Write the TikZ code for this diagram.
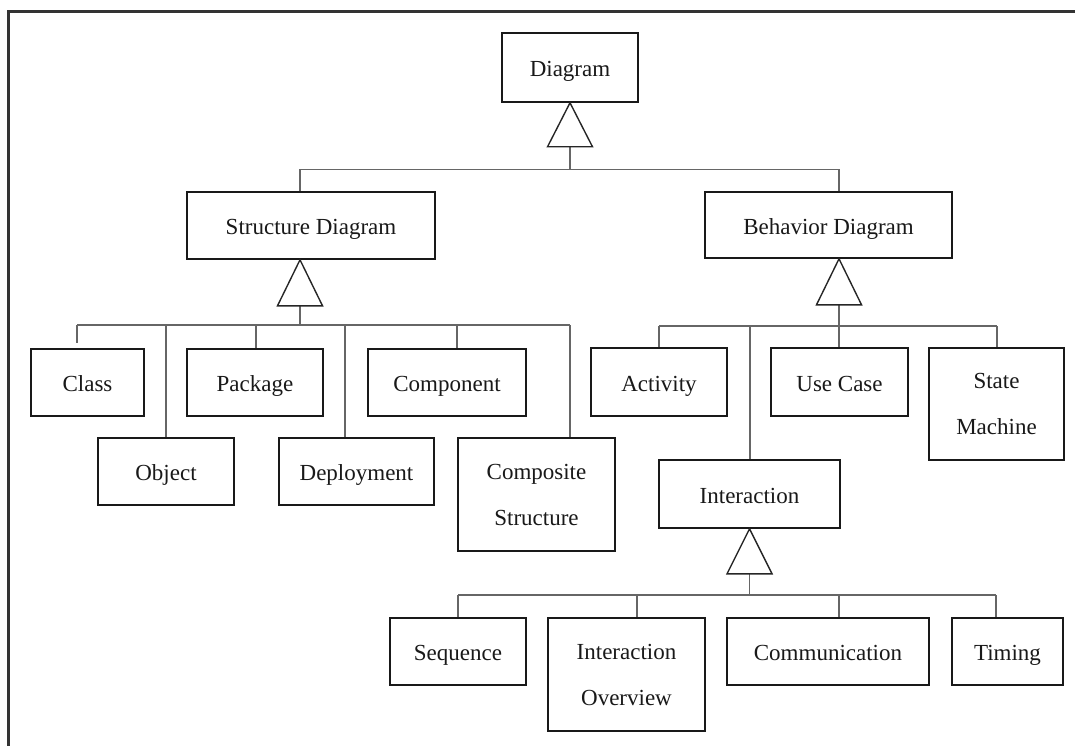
\documentclass[tikz,border=0pt]{standalone}
\usepackage{fontspec}
\setmainfont{Liberation Serif}
\usetikzlibrary{calc}
\begin{document}
\begin{tikzpicture}[x=1pt,y=-1pt,
  box/.style={draw=black!90, line width=1.6pt, fill=white, inner sep=0pt,
    align=center, font=\fontsize{23}{46}\selectfont, text=black!90},
  one/.style={box, text height=18pt, text depth=0pt},
  conn/.style={draw=black!60, line width=1.3pt},
  gen/.style={draw=black!85, line width=1.4pt, fill=white, line join=miter},
  frame/.style={draw=black!80, line width=3pt}]
\useasboundingbox (0,0) rectangle (1075,746);

% page frame (top and left rules)
\draw[frame] (8,760) -- (8,12) -- (1090,12);

% ---- nodes ----
\node[one, minimum width=136pt, minimum height=69pt] (diag) at (570,67.5) {Diagram};

\node[one, minimum width=248pt, minimum height=67pt] (sd) at (311,225.5) {Structure Diagram};
\node[one, minimum width=247pt, minimum height=66pt] (bd) at (828.5,225) {Behavior Diagram};

\node[one, minimum width=113pt, minimum height=67pt] (cls) at (87.5,382.5) {Class};
\node[one, minimum width=136pt, minimum height=67pt] (pkg) at (255,382.5) {Package};
\node[one, minimum width=158pt, minimum height=67pt] (cmp) at (447,382.5) {Component};
\node[one, minimum width=136pt, minimum height=67pt] (obj) at (166,471.5) {Object};
\node[one, minimum width=155pt, minimum height=67pt] (dep) at (356.5,471.5) {Deployment};
\node[box, minimum width=157pt, minimum height=113pt] (cs) at (536.5,494.5) {Composite\\Structure};

\node[one, minimum width=136pt, minimum height=68pt] (act) at (659,382) {Activity};
\node[one, minimum width=137pt, minimum height=68pt] (uc) at (839.5,382) {Use Case};
\node[box, minimum width=135pt, minimum height=112pt] (sm) at (996.5,404) {State\\Machine};
\node[one, minimum width=181pt, minimum height=68pt] (int) at (749.5,494) {Interaction};

\node[one, minimum width=136pt, minimum height=67pt] (seq) at (458,651.5) {Sequence};
\node[box, minimum width=157pt, minimum height=113pt] (io) at (626.5,674.5) {Interaction\\Overview};
\node[one, minimum width=202pt, minimum height=67pt] (com) at (828,651.5) {Communication};
\node[one, minimum width=111pt, minimum height=67pt] (tim) at (1007.5,651.5) {Timing};

% ---- generalization apexes ----
\coordinate (t1) at (diag.south);
\coordinate (t2) at ($(sd.south)+(-11,0)$);
\coordinate (t3) at ($(bd.south)+(10.5,0)$);
\coordinate (t4) at (int.south);
\coordinate (t1b) at ($(t1)+(0,44)$);
\coordinate (t2b) at ($(t2)+(0,46)$);
\coordinate (t3b) at ($(t3)+(0,46)$);
\coordinate (t4b) at ($(t4)+(0,45)$);

% ---- Diagram -> Structure / Behavior ----
\coordinate (bus1) at ($(t1b)+(0,23)$);
\draw[conn] (t1b) -- (bus1);
\draw[conn] (sd.north -| t2) |- (bus1) -| (bd.north -| t3);

% ---- Structure Diagram children ----
\coordinate (s1) at (77,325);
\coordinate (s2) at (166,325);
\coordinate (s3) at (256,325);
\coordinate (s4) at (345,325);
\coordinate (s5) at (457,325);
\coordinate (s6) at (570,325);
\draw[conn] (t2b) -- (t2b |- s1);
\draw[conn] (s1) -- (s6);
\draw[conn] (s1) -- ++(0,18);
\draw[conn] (s2) -- (s2 |- obj.north);
\draw[conn] (s3) -- (s3 |- pkg.north);
\draw[conn] (s4) -- (s4 |- dep.north);
\draw[conn] (s5) -- (s5 |- cmp.north);
\draw[conn] (s6) -- (s6 |- cs.north);

% ---- Behavior Diagram children ----
\coordinate (b1) at (659,326);
\coordinate (b2) at (750,326);
\coordinate (b4) at (997,326);
\draw[conn] (t3b) -- (t3b |- uc.north);
\draw[conn] (b1) -- (b4);
\draw[conn] (b1) -- (b1 |- act.north);
\draw[conn] (b2) -- (b2 |- int.north);
\draw[conn] (b4) -- (b4 |- sm.north);

% ---- Interaction children ----
\coordinate (i1) at (458,595);
\coordinate (i2) at (637,595);
\coordinate (i3) at (839,595);
\coordinate (i4) at (996,595);
\draw[conn] (t4b) -- (t4b |- i1);
\draw[conn] (i1) -- (i4);
\draw[conn] (i1) -- (i1 |- seq.north);
\draw[conn] (i2) -- (i2 |- io.north);
\draw[conn] (i3) -- (i3 |- com.north);
\draw[conn] (i4) -- (i4 |- tim.north);

% ---- hollow generalization triangles ----
\draw[gen] (t1) -- ++(22.5,44) -- ++(-45,0) -- cycle;
\draw[gen] (t2) -- ++(22.5,46) -- ++(-45,0) -- cycle;
\draw[gen] (t3) -- ++(22.5,46) -- ++(-45,0) -- cycle;
\draw[gen] (t4) -- ++(22.5,45) -- ++(-45,0) -- cycle;
\end{tikzpicture}
\end{document}
